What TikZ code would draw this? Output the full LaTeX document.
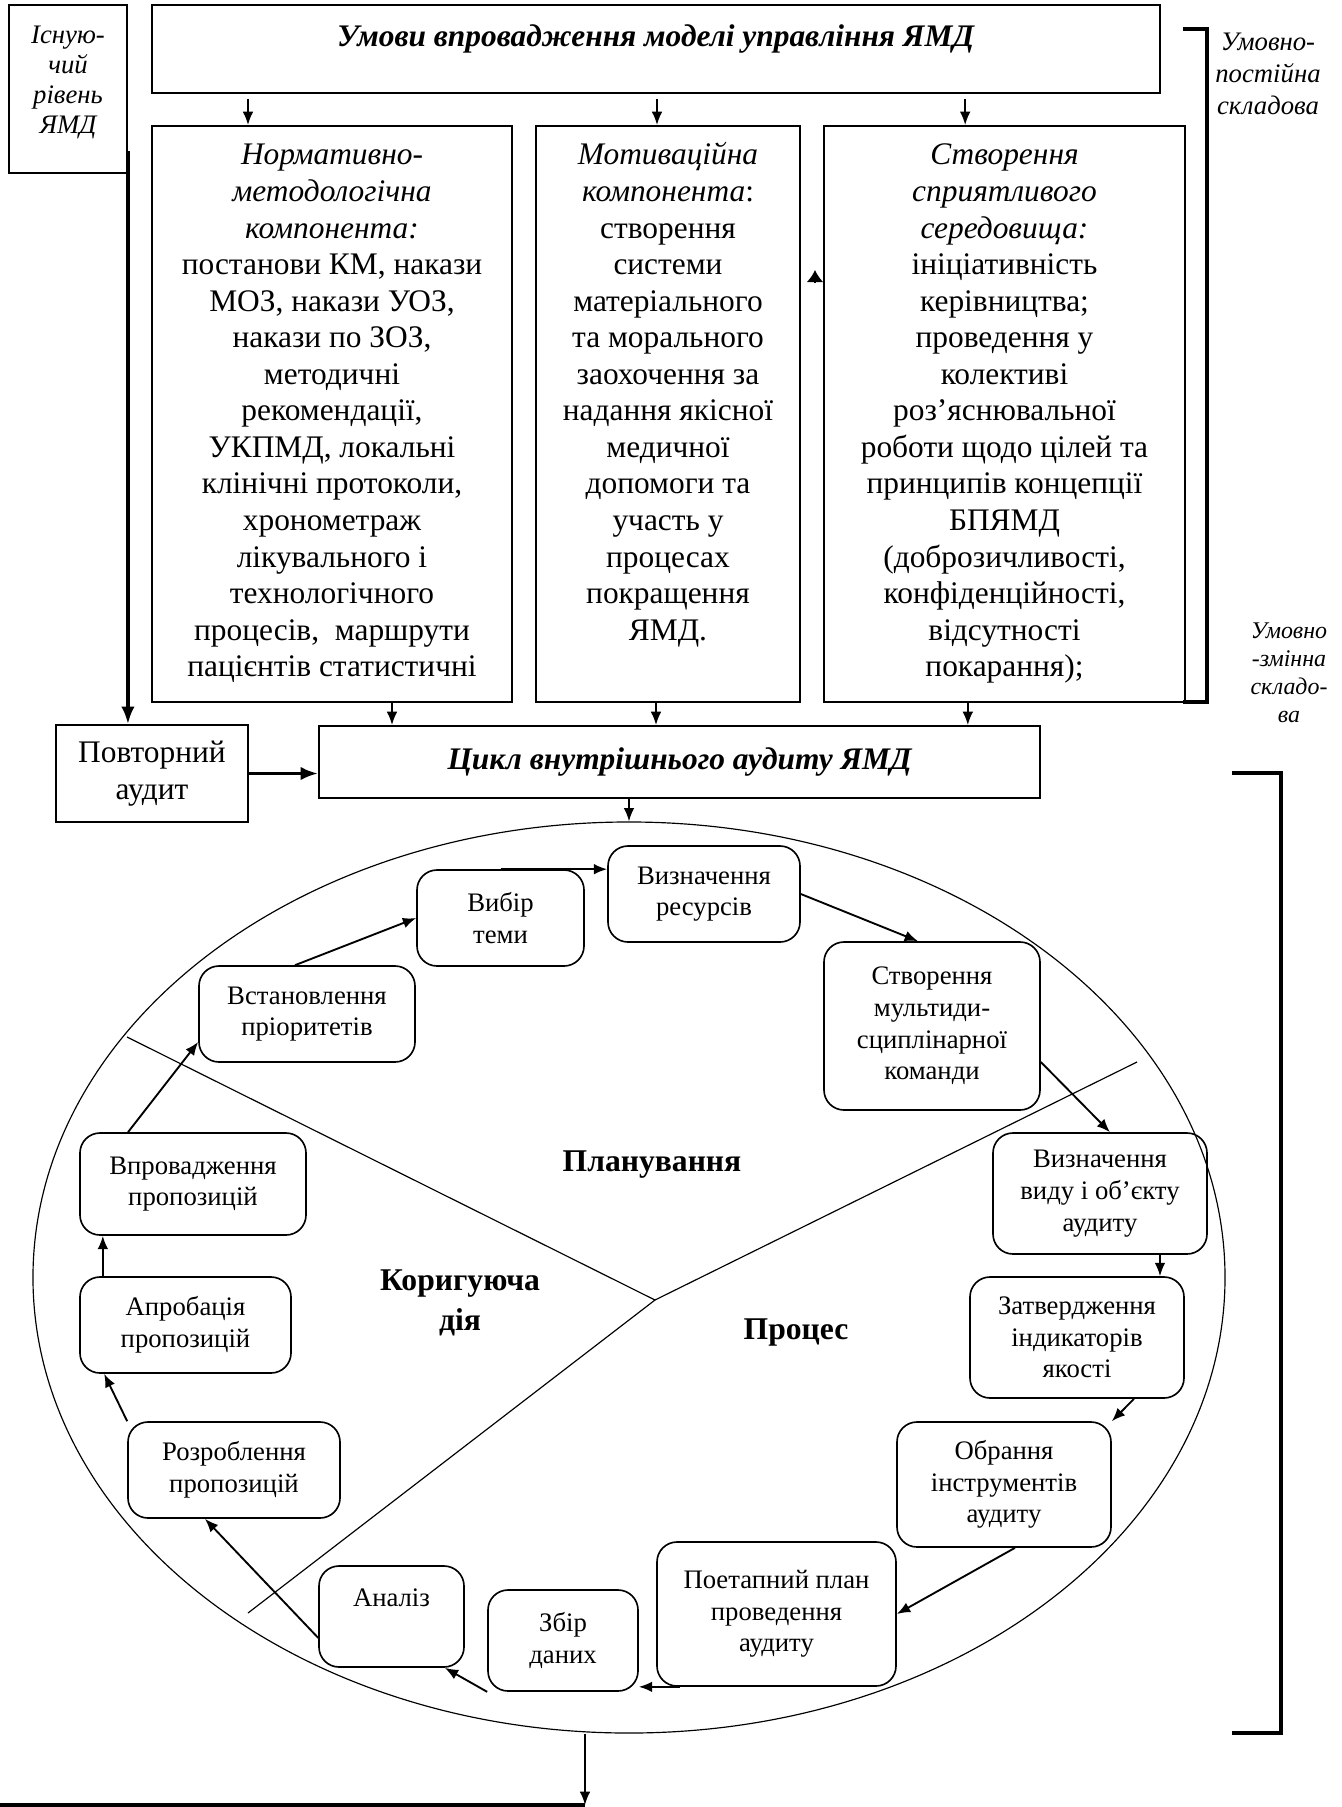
\documentclass[tikz,border=0pt]{standalone}
\usepackage{fontspec}
\setmainfont{Liberation Serif}
\usetikzlibrary{shapes.geometric,arrows.meta}

\newcommand{\mainsize}{\fontsize{13.4pt}{15.6pt}\selectfont}
\newcommand{\stagesize}{\fontsize{11.4pt}{13.5pt}\selectfont}
\newcommand{\boxtext}[3]{\parbox[t][#2][t]{#1}{\centering\strut #3}}

\tikzset{
  audit/.style={
    x=0.015cm, y=-0.015cm,
    every node/.style={font=\mainsize, inner sep=0pt},
    block/.style={draw, line width=0.8pt},
    column/.style={draw, line width=0.8pt, inner ysep=0.2cm, inner xsep=0pt},
    stage/.style={
        draw,
        line width=0.7pt,
        rounded corners=0.3cm,
        align=center,
        font=\stagesize,
    },
    note/.style={align=center, font=\itshape\fontsize{11.4pt}{13.6pt}\selectfont},
    phase/.style={align=center, font=\bfseries\fontsize{13.5pt}{17pt}\selectfont},
    arr/.style={line width=0.8pt, -{Latex[length=0.2cm,width=0.16cm]}},
    thick arr/.style={line width=1.4pt, -{Latex[length=0.26cm,width=0.2cm]}},
    bracket/.style={line width=1.4pt},
    divider/.style={line width=0.5pt}
  }
}

\begin{document}
\begin{tikzpicture}[audit]
        \useasboundingbox (0,0) rectangle (1342,1807);

        \node[column, inner ysep=0.26cm, font=\itshape\fontsize{11.4pt}{12.8pt}\selectfont] (isn) at (68,89)
            {\boxtext{1.77cm}{2.0cm}{Існую-\\чий\\рівень\\ЯМД}};
        \node[column, inner ysep=0.245cm] (umovy) at (656,49)
            {\boxtext{15.12cm}{0.83cm}{\textbf{\textit{Умови впровадження моделі управління ЯМД}}}};

        \node[column] (col1) at (332,414)
            {\boxtext{5.4cm}{8.24cm}{\textit{Нормативно-}\\ \textit{методологічна}\\ \textit{компонента:}\\
            постанови КМ, накази\\ МОЗ, накази УОЗ,\\ накази по ЗОЗ,\\ методичні\\ рекомендації,\\
            УКПМД, локальні\\ клінічні протоколи,\\ хронометраж\\ лікувального і\\ технологічного\\
            процесів, \ маршрути\\ пацієнтів статистичні}};
        \node[column] (col2) at (668,414)
            {\boxtext{3.96cm}{8.24cm}{\textit{Мотиваційна}\\ \textit{компонента}:\\ створення\\ системи\\
            матеріального\\ та морального\\ заохочення за\\ надання якісної\\ медичної\\ допомоги та\\
            участь у\\ процесах\\ покращення\\ ЯМД.}};
        \node[column] (col3) at (1004.5,414)
            {\boxtext{5.415cm}{8.24cm}{\textit{Створення}\\ \textit{сприятливого}\\ \textit{середовища:}\\
            ініціативність\\ керівництва;\\ проведення у\\ колективі\\ роз’яснювальної\\
            роботи щодо цілей та\\ принципів концепції\\ БПЯМД\\ (доброзичливості,\\
            конфіденційності,\\ відсутності\\ покарання);}};

        \node[block, align=center, minimum width=2.88cm, minimum height=1.455cm] (povt) at (152,773.5)
            {Повторний\\аудит};
        \node[block, minimum width=10.815cm, minimum height=1.08cm, font=\mainsize\bfseries\itshape] (tsykl) at (679.5,762)
            {Цикл внутрішнього аудиту ЯМД};

        \node[note] (const) at (1268,74) {Умовно-\\постійна\\складова};
        \node[note, font=\itshape\fontsize{10.2pt}{11.9pt}\selectfont] (var) at (1289,673)
            {Умовно\\-змінна\\складо-\\ва};

        \node[draw, ellipse, line width=0.5pt, minimum width=17.88cm, minimum height=13.665cm] (ell) at (629,1277.5) {};

        \node[stage, minimum width=2.505cm, minimum height=1.44cm] (vybir) at (500.5,918) {Вибір\\теми};
        \node[stage, minimum width=2.88cm, minimum height=1.44cm] (vyzres) at (704,894) {Визначення\\ресурсів};
        \node[stage, minimum width=3.24cm, minimum height=1.44cm] (vstan) at (307,1014) {Встановлення\\пріоритетів};
        \node[stage, minimum width=3.24cm, minimum height=2.52cm] (stvor) at (932,1026)
            {Створення\\мультиди-\\сциплінарної\\команди};
        \node[stage, minimum width=3.39cm, minimum height=1.53cm] (vprov) at (193,1184) {Впровадження\\пропозицій};
        \node[stage, minimum width=3.21cm, minimum height=1.815cm] (vyzvyd) at (1100,1193.5)
            {Визначення\\виду і об’єкту\\аудиту};
        \node[stage, minimum width=3.165cm, minimum height=1.44cm] (aprob) at (185.5,1325) {Апробація\\пропозицій};
        \node[stage, minimum width=3.21cm, minimum height=1.815cm] (zatv) at (1077,1337.5)
            {Затвердження\\індикаторів\\якості};
        \node[stage, minimum width=3.18cm, minimum height=1.44cm] (rozr) at (234,1470) {Розроблення\\пропозицій};
        \node[stage, minimum width=3.21cm, minimum height=1.875cm] (obr) at (1004,1484.5)
            {Обрання\\інструментів\\аудиту};
        \node[stage, minimum width=3.585cm, minimum height=2.16cm] (poet) at (776.5,1614)
            {Поетапний план\\проведення\\аудиту};
        \node[stage, minimum width=2.175cm, minimum height=1.515cm, text height=0.6cm, text depth=0.915cm] (analiz) at (391.5,1616.5)
            {Аналіз};
        \node[stage, minimum width=2.25cm, minimum height=1.515cm] (zbir) at (563,1640.5) {Збір\\даних};

        \node[phase] (plan) at (652,1165) {Планування};
        \node[phase] (kor) at (460,1303) {Коригуюча\\дія};
        \node[phase] (proc) at (796,1332) {Процес};

        \coordinate (hub) at (655,1300);
        \draw[divider] (127,1037) -- (hub) -- (1137,1062);
        \draw[divider] (hub) -- (248,1613);

        \draw[bracket] (1183,29) -- (1207,29) -- (1207,702) -- (1183,702);
        \draw[bracket] (1232,773) -- (1281,773) -- (1281,1733) -- (1232,1733);

        \draw[arr, shorten <=0.075cm] ([xshift=-1.26cm]col1.north |- umovy.south) -- ([xshift=-1.26cm]col1.north);
        \draw[arr, shorten <=0.075cm] ([xshift=-0.165cm]col2.north |- umovy.south) -- ([xshift=-0.165cm]col2.north);
        \draw[arr, shorten <=0.075cm] ([xshift=-0.59cm]col3.north |- umovy.south) -- ([xshift=-0.59cm]col3.north);

        \coordinate (tip) at (815,270);
        \draw[line width=0.8pt, -{Latex[length=0.18cm,width=0.25cm]}] (tip) ++(0,13) -- (tip);

        \draw[arr] ([xshift=0.9cm]col1.south) -- ([xshift=0.9cm]col1.south |- tsykl.north);
        \draw[arr] ([xshift=-0.18cm]col2.south) -- ([xshift=-0.18cm]col2.south |- tsykl.north);
        \draw[arr] ([xshift=-0.55cm]col3.south) -- ([xshift=-0.55cm]col3.south |- tsykl.north);

        \draw[thick arr] ([yshift=0.345cm]isn.south east) -- (isn.south east |- povt.north);
        \draw[thick arr] (povt.east) -- (povt.east -| tsykl.west);
        \draw[arr] (tsykl.south -| ell.north) -- (ell.north);

        \draw[arr] ([xshift=-0.18cm]vstan.north) -- (vybir.west);
        \draw[arr] (vybir.north) -- (vybir.north -| vyzres.west);
        \draw[arr] (vyzres.east) -- ([xshift=-0.21cm]stvor.north);
        \draw[arr] ([yshift=-0.54cm]stvor.east) -- ([xshift=0.15cm]vyzvyd.north);
        \draw[arr] ([xshift=0.9cm]vyzvyd.south) -- ([xshift=0.9cm]vyzvyd.south |- zatv.north);
        \draw[arr] ([xshift=0.855cm]zatv.south) -- (obr.north east);
        \draw[arr] ([xshift=0.165cm]obr.south) -- (poet.east);
        \draw[arr] ([xshift=0.36cm]poet.south west) -- (zbir.east |- poet.south);
        \draw[arr] (zbir.south west) -- ([xshift=-0.3cm]analiz.south east);
        \draw[arr] ([yshift=-0.32cm]analiz.west) -- ([xshift=-0.435cm]rozr.south);
        \draw[arr] (rozr.north west) -- ([xshift=-1.22cm]aprob.south);
        \draw[arr] ([xshift=-1.24cm]aprob.north) -- ([xshift=-1.24cm]aprob.north |- vprov.south);
        \draw[arr] ([xshift=-0.975cm]vprov.north) -- ([yshift=-0.42cm]vstan.west);

        \coordinate (out) at (585,1805);
        \coordinate (outl) at (0,1805);
        \draw[arr] (ell.south -| out) -- (out);
        \draw[bracket] (out) -- (outl);
\end{tikzpicture}
\end{document}
